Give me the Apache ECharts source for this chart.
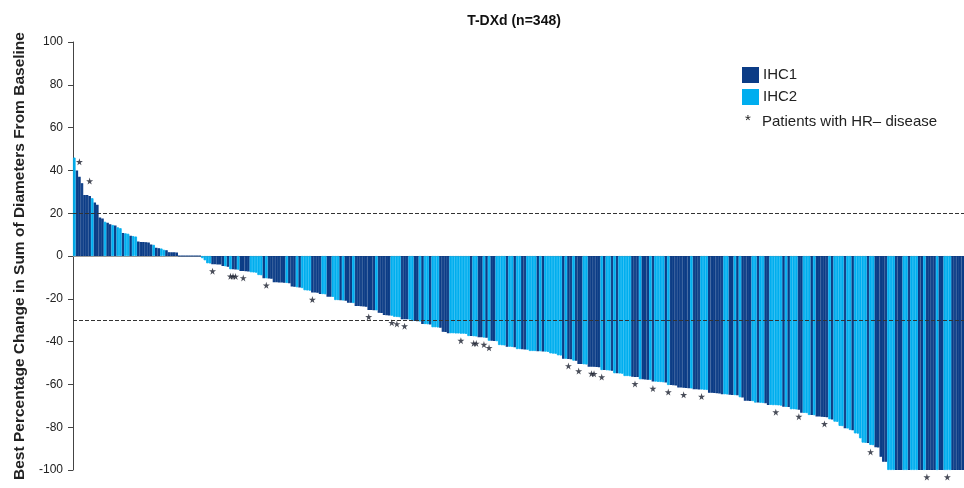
<!DOCTYPE html>
<html>
<head>
<meta charset="utf-8">
<script src="https://cdn.jsdelivr.net/npm/echarts@6/dist/echarts.min.js"></script>
<style>html,body{margin:0;padding:0;background:#fff}#c{width:964px;height:488px}</style>
</head>
<body>
<div id="c"></div>
<script>
// Best % change per patient (sorted), n = 348
const change = [
  46, 40, 37, 34, 28.5, 28.5, 28, 27, 25, 24,
  18, 17.5, 16, 15.5, 14.8, 14.5, 14.2, 13.4, 13, 10.8,
  10.6, 10.4, 9.5, 9.3, 9.1, 6.8, 6.6, 6.5, 6.4, 6.3,
  5.4, 5.2, 3.8, 3.6, 3.5, 2.9, 2.7, 1.8, 1.7, 1.7,
  1.6, 0, 0, 0, 0, 0, 0, 0, 0, 0,
  -1, -2, -3.4, -3.5, -3.8, -3.9, -4, -4, -4.7, -4.8,
  -5, -6.2, -6.2, -6.3, -6.4, -7, -7, -7.1, -7.2, -7.6,
  -7.7, -7.8, -8.9, -9, -10.4, -10.4, -10.5, -10.6, -12.3, -12.3,
  -12.4, -12.4, -12.5, -12.6, -12.7, -14.3, -14.4, -14.6, -14.7, -15,
  -16, -16.1, -16.2, -17.1, -17.1, -17.2, -17.8, -17.8, -17.9, -19,
  -19, -19.1, -20.6, -20.6, -20.7, -20.8, -20.9, -21.8, -21.9, -22,
  -23.4, -23.4, -23.5, -23.6, -23.7, -25.2, -25.2, -25.3, -25.4, -26.5,
  -26.6, -27.6, -27.7, -27.8, -27.9, -28.4, -28.5, -28.6, -29.5, -29.5,
  -29.6, -29.7, -30.4, -30.4, -30.5, -30.6, -31.8, -31.8, -31.9, -32,
  -33.3, -33.3, -33.4, -33.5, -35.4, -35.5, -36.1, -36.1, -36.1, -36.2,
  -36.2, -36.3, -36.3, -36.4, -37.4, -37.4, -37.5, -37.6, -38, -38,
  -38.1, -38.2, -39.6, -39.6, -39.7, -39.8, -41.6, -41.7, -41.8, -42.4,
  -42.4, -42.5, -42.6, -43.5, -43.5, -43.6, -43.7, -43.8, -44.4, -44.4,
  -44.4, -44.5, -44.5, -44.6, -44.7, -44.8, -45.5, -45.6, -45.7, -46.4,
  -46.5, -48, -48, -48.1, -48.2, -48.9, -49, -50.5, -50.5, -50.6,
  -50.7, -51.7, -51.7, -51.8, -51.9, -52, -53.3, -53.3, -53.4, -53.5,
  -53.6, -54.8, -54.8, -54.9, -55, -56.1, -56.1, -56.2, -56.4, -56.5,
  -56.6, -57.6, -57.6, -57.7, -57.8, -57.9, -58.7, -58.7, -58.8, -58.9,
  -59, -59.1, -60.3, -60.3, -60.4, -60.5, -61.5, -61.5, -61.6, -61.7,
  -61.8, -61.9, -62.3, -62.3, -62.4, -62.4, -62.5, -62.6, -63.9, -63.9,
  -64, -64.1, -64.2, -64.6, -64.6, -64.7, -64.8, -64.9, -65, -65.1,
  -66, -66.1, -67.6, -67.6, -67.7, -67.8, -68.5, -68.5, -68.6, -68.7,
  -68.8, -69.6, -69.6, -69.7, -69.7, -69.8, -69.9, -70.4, -70.5, -70.6,
  -71.6, -71.6, -71.7, -71.8, -73.2, -73.3, -73.4, -74.3, -74.3, -74.4,
  -75, -75, -75.1, -75.2, -75.3, -76.3, -76.4, -77.4, -77.5, -79.4,
  -79.5, -80.5, -80.6, -81.3, -81.4, -82.9, -83, -85.2, -87.2, -87.3,
  -87.4, -88.3, -88.4, -89.4, -89.5, -93.8, -96.1, -96.2, -100, -100,
  -100, -100, -100, -100, -100, -100, -100, -100, -100, -100,
  -100, -100, -100, -100, -100, -100, -100, -100, -100, -100,
  -100, -100, -100, -100, -100, -100, -100, -100
];

// IHC status per patient (1 = IHC1, 2 = IHC2), same order as change
const ihcStatus = (
  "2111111211" + "1121121221" + "2212211111" + "1211221111" + "1111111111" +
  "2222111112" + "1211211112" + "2222121111" + "1112111212" + "2221111221" +
  "1222121112" + "1111111121" + "1111222211" + "1221121221" + "2221111222" +
  "2222212211" + "2121122221" + "2212211222" + "2121222222" + "2121121112" +
  "2111112122" + "1212222211" + "1211121222" + "2121111111" + "1211122211" +
  "1111221121" + "2111122122" + "1122222121" + "2221122212" + "1111121222" +
  "2122122222" + "1221111122" + "2111221222" + "1121111211" + "22211111"
).split("");

// Patients with HR- disease (0-based positions in the sorted order)
const hrNegative = [2, 6, 54, 61, 62, 63, 66, 75, 93, 115, 124, 126, 129, 151, 156, 157,
  160, 162, 193, 197, 202, 203, 206, 219, 226, 232, 238, 245, 274, 283, 293, 311, 333, 341];

const thresholds = [20, -30];
const yTicks = { min: -100, max: 100, step: 20 };
const groupNames = ["IHC1", "IHC2"];

const patients = change.map((_, i) => String(i + 1));
const DARK = "#0b3c86", LIGHT = "#00aeef";

const chart = echarts.init(document.getElementById("c"), null, { renderer: "canvas" });
const font = "'Liberation Sans', Arial, Helvetica, sans-serif";

chart.setOption({
  animation: false,
  backgroundColor: "#fff",
  title: {
    text: "T-DXd (n=348)",
    left: 509, top: 9, textAlign: "center",
    textStyle: { fontFamily: font, fontSize: 14, fontWeight: "bold", color: "#111" }
  },
  legend: {
    data: groupNames,
    orient: "vertical", left: 742, top: 67, padding: 0,
    itemWidth: 15, itemHeight: 14, itemGap: 6, icon: "rect",
    textStyle: { fontFamily: font, fontSize: 15, color: "#222" }
  },
  graphic: [
    { type: "text", left: 745, top: 113, style: { text: "*", font: "15px " + font, fill: "#222" } },
    { type: "text", left: 762, top: 114, style: { text: "Patients with HR\u2013 disease", font: "15px " + font, fill: "#222" } }
  ],
  grid: { left: 73, right: 0, top: 42, bottom: 18, containLabel: false },
  xAxis: {
    type: "category", data: patients, boundaryGap: true,
    axisLine: { show: true, onZero: true, lineStyle: { color: "#9a9a9a", width: 1 } },
    axisTick: { show: false }, axisLabel: { show: false }, splitLine: { show: false }
  },
  yAxis: {
    type: "value", min: yTicks.min, max: yTicks.max, interval: yTicks.step,
    name: "Best Percentage Change in Sum of Diameters From Baseline",
    nameLocation: "middle", nameGap: 44, nameRotate: 90,
    nameTextStyle: { fontFamily: font, fontSize: 15.5, fontWeight: "bold", color: "#222" },
    axisLine: { show: true, lineStyle: { color: "#444", width: 1 } },
    axisTick: { show: true, length: 5, lineStyle: { color: "#444" } },
    axisLabel: { fontFamily: font, fontSize: 12, color: "#222", margin: 10 },
    splitLine: { show: false }
  },
  series: [
    {
      name: "IHC1", type: "bar", barGap: "-100%", barCategoryGap: "0%",
      itemStyle: { color: DARK, borderColor: DARK, borderWidth: 1.1 },
      data: change.map((v, i) => ihcStatus[i] === "1" ? v : "-"),
      markLine: {
        silent: true, symbol: "none", label: { show: false },
        lineStyle: { color: "#333", width: 1, type: [4, 2] },
        data: thresholds.map(t => ({ yAxis: t })), z: 10
      }
    },
    {
      name: "IHC2", type: "bar", barGap: "-100%", barCategoryGap: "0%",
      itemStyle: { color: LIGHT, borderColor: LIGHT, borderWidth: 0.8 },
      data: change.map((v, i) => ihcStatus[i] === "2" ? v : "-")
    },
    {
      name: "HR-", type: "scatter", clip: false, z: 5,
      symbol: "path://M50,0 L61,35 L98,35 L68,57 L79,91 L50,70 L21,91 L32,57 L2,35 L39,35 Z",
      symbolSize: 7,
      itemStyle: { color: "#1b2030" },
      data: hrNegative.map(i => ({ value: [i, change[i]], symbolOffset: [0, change[i] > 0 ? -15 : 7] }))
    }
  ]
});
</script>
</body>
</html>
